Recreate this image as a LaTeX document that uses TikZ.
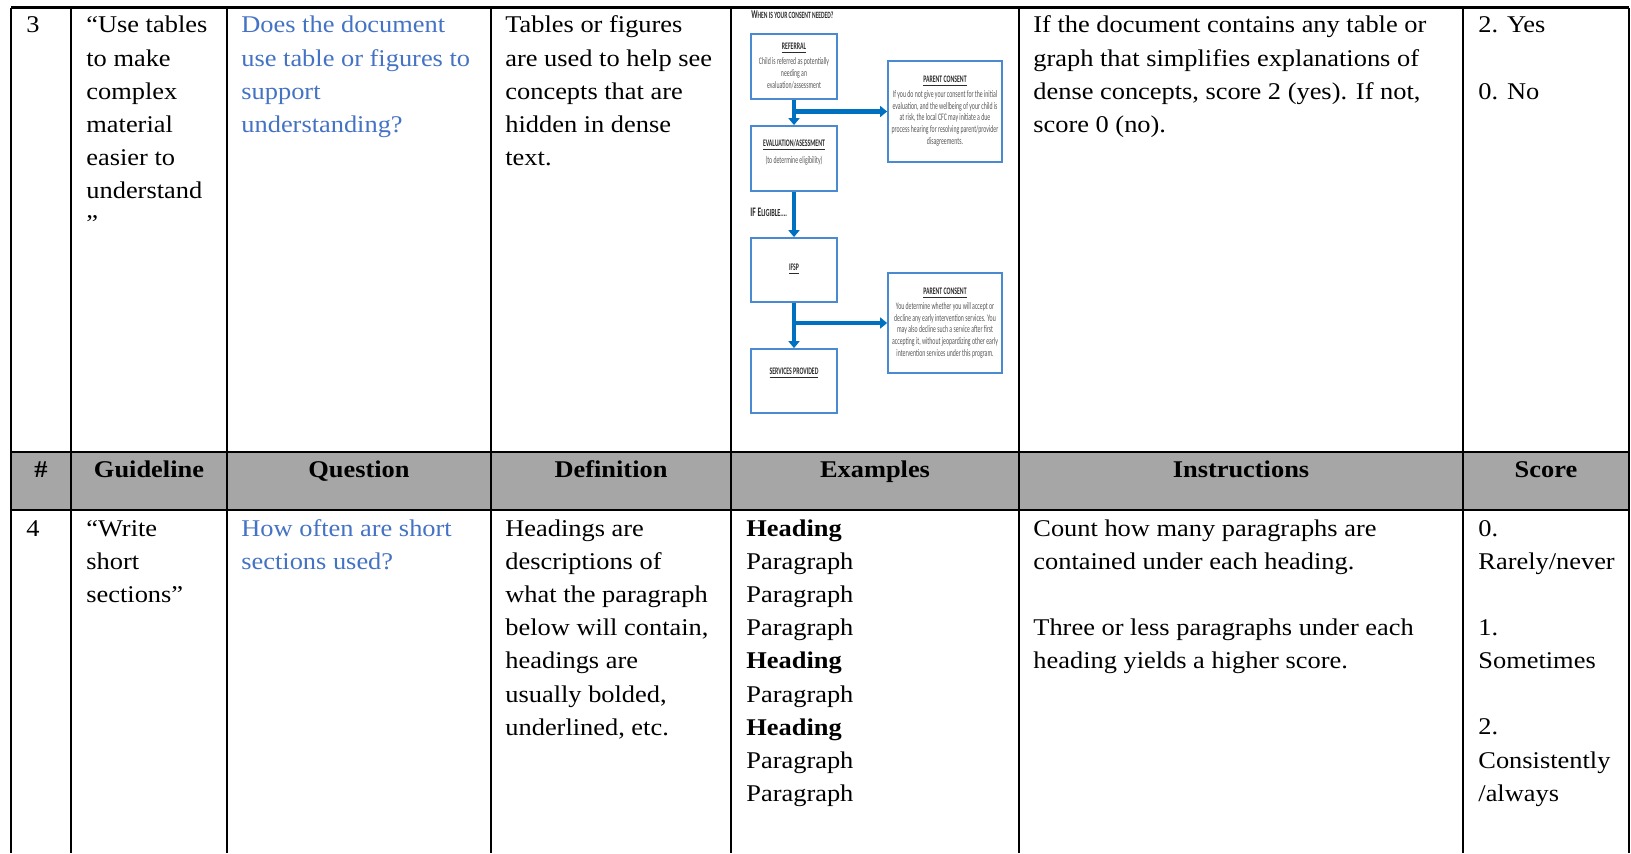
\documentclass[tikz,border=0pt]{standalone}
\usepackage{fontspec}
\setmainfont{Liberation Serif}[FakeStretch=1.1]
\newfontfamily\chartfont{Carlito}[FakeStretch=0.58]
\usetikzlibrary{arrows.meta}

\definecolor{qblue}{HTML}{4472C4}
\definecolor{headgray}{HTML}{A6A6A6}
\definecolor{flowblue}{HTML}{0070C0}
\definecolor{boxblue}{HTML}{4A8AD0}
\definecolor{flowtext}{HTML}{555555}
\definecolor{flowhead}{HTML}{2B2B2B}

\tikzset{
  cell/.style={anchor=north west, inner sep=0pt, align=left, font=\fontsize{12}{16.55}\selectfont},
  qcell/.style={cell, text=qblue},
  headcell/.style={anchor=base, inner sep=0pt, font=\fontsize{12}{16.5}\selectfont\bfseries},
  gridline/.style={line width=1.3pt},
  flowbox/.style={draw=boxblue, line width=0.9pt, inner sep=0pt},
  boxtext/.style={align=center, inner sep=0pt, text=flowtext, font=\chartfont\fontsize{5}{5.85}\selectfont},
  flowarrow/.style={draw=flowblue, line width=2.2pt, -{Triangle[width=5.5pt,length=3.5pt]}}
}
\newcommand\boxhead[1]{\textcolor{flowhead}{\underline{\textbf{#1}}}}

\begin{document}
\begin{tikzpicture}[x=0.5pt, y=-0.5pt]
\useasboundingbox (0,0) rectangle (1631,853);
% Set the row tops (strut top, one line is 33px)
\def\rowc{9.4}
\def\rowd{513}

% Header band and grid
\fill[headgray] (11,452) rectangle (1629,510);
\draw[gridline] (11,7.5) -- (1629,7.5);
\draw[gridline] (11,452) -- (1629,452);
\draw[gridline] (11,510) -- (1629,510);
\foreach \x in {11,71,227,491,731,1019,1463,1629}
  \draw[gridline] (\x,7.5) -- (\x,853);

% Row 3
\node[cell] (nc) at (26,\rowc) {\strut 3};
\node[cell] (gc) at (86,\rowc) {\strut“Use tables\\to make\\complex\\material\\easier to\\understand\\”};
\node[qcell] (qc) at (241,\rowc) {\strut Does the document\\use table or figures to\\support\\understanding?};
\node[cell] (dc) at (505,\rowc) {\strut Tables or figures\\are used to help see\\concepts that are\\hidden in dense\\text.};
\node[cell] (ic) at (1033,\rowc) {\strut If the document contains any table or\\graph that simplifies explanations of\\dense concepts, score 2 (yes). If not,\\score 0 (no).};
\node[cell] (sc) at (1478,\rowc) {\strut 2. Yes\\[16.5pt]0. No};

% Flowchart in the examples cell
\node[anchor=west, inner sep=0pt, text=flowhead, font=\chartfont\bfseries] (title) at (751,15)
  {{\fontsize{6}{6}\selectfont W}{\fontsize{4.8}{6}\selectfont HEN IS YOUR CONSENT NEEDED?}};
\node[flowbox, minimum width=43pt, minimum height=32.5pt] (ref) at (794,66.5) {};
\node[flowbox, minimum width=57pt, minimum height=50.5pt] (pca) at (945,111.5) {};
\node[flowbox, minimum width=43pt, minimum height=32.5pt] (eval) at (794,158.5) {};
\node[flowbox, minimum width=43pt, minimum height=32pt] (ifsp) at (794,270) {};
\node[flowbox, minimum width=57pt, minimum height=50pt] (pcb) at (945,323) {};
\node[flowbox, minimum width=43pt, minimum height=32pt] (serv) at (794,381) {};

\node[boxtext] (reft) at (794,66) {\boxhead{REFERRAL}\\[1.5pt]Child is referred as potentially\\needing an\\evaluation/assessment};
\node[boxtext] (pcat) at (945,111) {\boxhead{PARENT CONSENT}\\[1.5pt]If you do not give your consent for the initial\\evaluation, and the wellbeing of your child is\\at risk, the local CFC may initiate a due\\process hearing for resolving parent/provider\\disagreements.};
\node[boxtext] (evalt) at (794,152) {\boxhead{EVALUATION/ASESSMENT}\\[1.5pt](to determine eligibility)};
\node[anchor=west, inner sep=0pt, text=flowhead, font=\chartfont\bfseries] (elig) at (750,212.5)
  {{\fontsize{6.5}{6}\selectfont IF E}{\fontsize{5.4}{6}\selectfont LIGIBLE....}};
\node[boxtext] (ifspt) at (794,269) {\boxhead{IFSP}};
\node[boxtext] (pcbt) at (945,323) {\boxhead{PARENT CONSENT}\\[1.5pt]You determine whether you will accept or\\decline any early intervention services. You\\may also decline such a service after first\\accepting it, without jeopardizing other early\\intervention services under this program.};
\node[boxtext] (servt) at (794,373) {\boxhead{SERVICES PROVIDED}};

\draw[flowarrow] (ref.south) -- (eval.north);
\draw[flowarrow] (ref.south |- pca.west) -- (pca.west);
\draw[flowarrow] (eval.south) -- (ifsp.north);
\draw[flowarrow] (ifsp.south) -- (serv.north);
\draw[flowarrow] (ifsp.south |- pcb.west) -- (pcb.west);

% Header row
\node[headcell] (hn) at (41,477) {\#};
\node[headcell] (hg) at (149,477) {Guideline};
\node[headcell] (hq) at (359,477) {Question};
\node[headcell] (hd) at (611,477) {Definition};
\node[headcell] (he) at (875,477) {Examples};
\node[headcell] (hi) at (1241,477) {Instructions};
\node[headcell] (hs) at (1546,477) {Score};

% Row 4
\node[cell] (nd) at (26,\rowd) {\strut 4};
\node[cell] (gd) at (86,\rowd) {\strut“Write\\short\\sections”};
\node[qcell] (qd) at (241,\rowd) {\strut How often are short\\sections used?};
\node[cell] (dd) at (505,\rowd) {\strut Headings are\\descriptions of\\what the paragraph\\below will contain,\\headings are\\usually bolded,\\underlined, etc.};
\node[cell] (ed) at (746,\rowd) {\strut\textbf{Heading}\\Paragraph\\Paragraph\\Paragraph\\\textbf{Heading}\\Paragraph\\\textbf{Heading}\\Paragraph\\Paragraph};
\node[cell] (id) at (1033,\rowd) {\strut Count how many paragraphs are\\contained under each heading.\\[16.5pt]Three or less paragraphs under each\\heading yields a higher score.};
\node[cell] (sd) at (1478,\rowd) {\strut 0.\\Rarely/never\\[16.5pt]1.\\Sometimes\\[16.5pt]2.\\Consistently\\/always};
\end{tikzpicture}
\end{document}
